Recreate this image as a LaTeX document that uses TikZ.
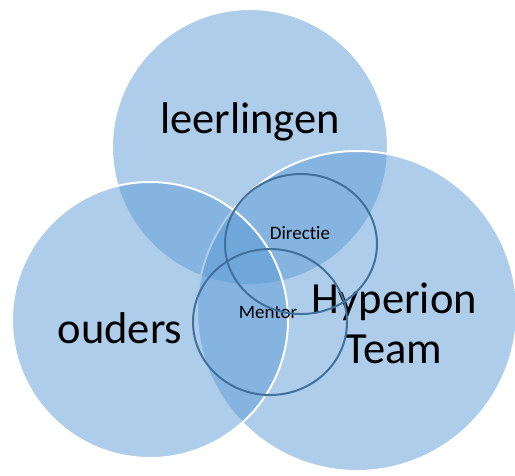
\documentclass[tikz,border=0pt]{standalone}
\usepackage{fontspec}
\setmainfont{Carlito}[Ligatures=NoCommon]
\usetikzlibrary{shapes.geometric}
\definecolor{accent}{HTML}{5B9BD5}
\definecolor{ringblue}{HTML}{41719C}

\begin{document}
\begin{tikzpicture}[
x=1pt,
y=-1pt,
group/.style={
circle,
draw=white,
line width=2pt,
fill=accent,
fill opacity=0.5,
inner sep=0pt
},
ring/.style={
ellipse,
draw=ringblue,
line width=2pt,
inner sep=0pt
},
biglabel/.style={
font=\fontsize{44.5}{50}\selectfont,
align=center,
inner sep=0pt,
anchor=base
},
smalllabel/.style={
font=\fontsize{19}{22}\selectfont,
inner sep=0pt,
anchor=base
}
]

\useasboundingbox (0,0) rectangle (515,475);
\clip (0,0) rectangle (515,475);

% three groups
\node[group, minimum size=276pt] (leer) at (250,147) {};
\node[group, minimum size=320pt] (team) at (357,311) {};
\node[group, minimum size=276pt] (ouders) at (150,320) {};

\node[biglabel] (leertext) at (250,133) {leerlingen};
\node[biglabel] (ouderstext) at (120,343) {ouders};
\node[biglabel] (teamtext) at (394,363) {Hyperion\\Team};

% inner rings
\node[ring, minimum width=154pt, minimum height=146pt] (mentor) at (270,322) {};
\node[smalllabel] (mentortext) at (268,318) {Mentor};
\node[ring, minimum width=152pt, minimum height=140pt] (directie) at (301,244) {};
\node[smalllabel] (directietext) at (300,239) {Directie};

\end{tikzpicture}
\end{document}
